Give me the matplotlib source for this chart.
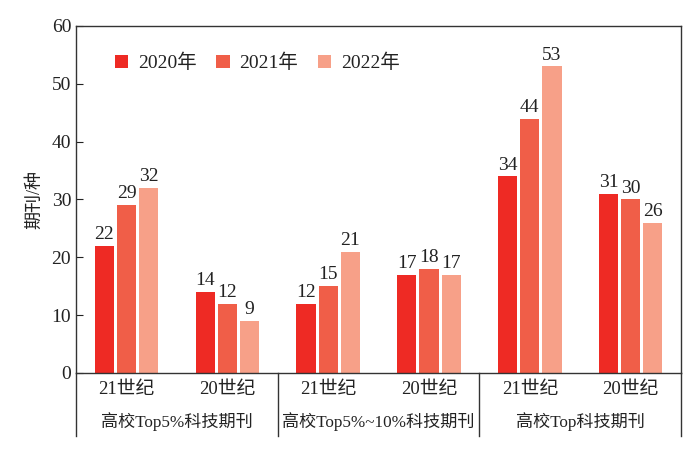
import matplotlib
matplotlib.use("Agg")
import matplotlib.pyplot as plt
import numpy as np

plt.rcParams['font.family'] = ['Liberation Serif', 'Noto Sans CJK SC']
plt.rcParams['axes.unicode_minus'] = False

categories = ['21世纪', '20世纪', '21世纪', '20世纪', '21世纪', '20世纪']
groups = ['高校Top5%科技期刊', '高校Top5%~10%科技期刊', '高校Top科技期刊']
years = ['2020年', '2021年', '2022年']
v2020 = [22, 14, 12, 17, 34, 31]
v2021 = [29, 12, 15, 18, 44, 30]
v2022 = [32, 9, 21, 17, 53, 26]
colors = ['#EE2A24', '#F05E48', '#F7A088']

fig = plt.figure(figsize=(7, 4.59), dpi=100)
ax = fig.add_axes([0.1086, 0.1874, 0.8644, 0.756])

x = np.arange(len(categories))
w = 0.19
step = 0.22
for i, (vals, lab) in enumerate(zip([v2020, v2021, v2022], years)):
    bars = ax.bar(x + (i - 1) * step, vals, width=w, color=colors[i], label=lab)
    for b, v in zip(bars, vals):
        ax.annotate(str(v), (b.get_x() + b.get_width() / 2, v), xytext=(0, 2),
                    textcoords='offset points', ha='center', va='bottom',
                    fontsize=14, color='#222222')

ax.set_xlim(-0.5, 5.5)
ax.set_ylim(0, 60)
ax.set_yticks(range(0, 61, 10))
ax.tick_params(axis='y', direction='in', length=5, labelsize=14, colors='#222222')
ax.set_xticks(x)
ax.set_xticklabels(categories, fontsize=13.5, color='#222222')
ax.tick_params(axis='x', length=0, pad=6)
ax.set_ylabel('期刊/种', fontsize=13, color='#222222', labelpad=6)

for s in ax.spines.values():
    s.set_color('#333333')
    s.set_linewidth(1.0)

# separators below the axis
trans = ax.get_xaxis_transform()
for xs in [-0.5, 1.5, 3.5, 5.5]:
    ax.plot([xs, xs], [0, -0.182], transform=trans, color='#333333', lw=1.0, clip_on=False)
for gi, g in enumerate(groups):
    ax.text(gi * 2 + 0.5, -0.14, g, transform=trans, ha='center', va='center',
            fontsize=12.3, color='#222222')

ax.legend(loc='upper left', bbox_to_anchor=(0.035, 0.97), ncol=3, frameon=False,
          fontsize=14, handlelength=0.7, handleheight=0.7, handletextpad=0.5,
          columnspacing=1.0, labelcolor='#222222')

fig.savefig('out.png', dpi=100)
